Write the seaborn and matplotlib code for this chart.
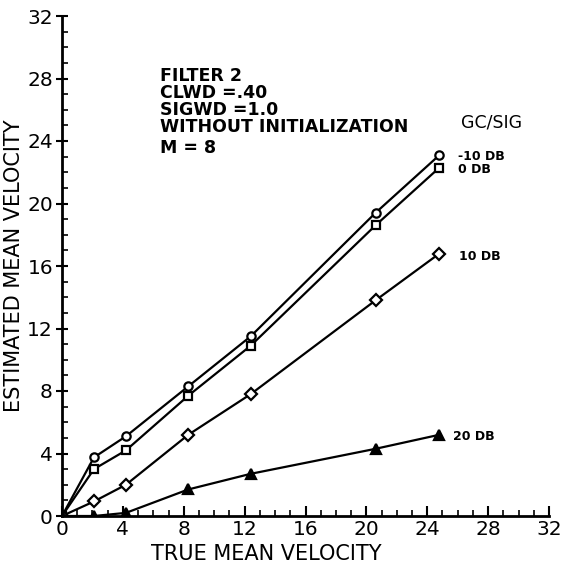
import numpy as np
import pandas as pd
import matplotlib
matplotlib.use("Agg")
import matplotlib.pyplot as plt
import seaborn as sns
from matplotlib.ticker import MultipleLocator

# ---- data ----
true_velocity = [0.0, 2.1, 4.2, 8.3, 12.4, 20.6, 24.8]
est_m10db = [0.0, 3.75, 5.1, 8.3, 11.5, 19.4, 23.1]
est_0db = [0.0, 3.0, 4.2, 7.7, 10.9, 18.6, 22.3]
est_10db = [0.0, 0.93, 2.0, 5.2, 7.8, 13.8, 16.8]
est_20db = [0.0, 0.0, 0.2, 1.7, 2.7, 4.3, 5.2]
series_labels = ["-10 DB", "0 DB", "10 DB", "20 DB"]
x_ticks = [0, 4, 8, 12, 16, 20, 24, 28, 32]
y_ticks = [0, 4, 8, 12, 16, 20, 24, 28, 32]
info_lines = ["FILTER 2", "CLWD =.40", "SIGWD =1.0", "WITHOUT INITIALIZATION"]
info_last = "M = 8"

sns.set_theme(style="white")
plt.rcParams['font.family'] = ['DejaVu Sans']
plt.rcParams['text.color'] = 'black'
plt.rcParams['axes.labelcolor'] = 'black'
plt.rcParams['xtick.color'] = 'black'
plt.rcParams['ytick.color'] = 'black'

fig = plt.figure(figsize=(5.73, 5.77), dpi=100)
ax = fig.add_axes([62/573, 1-516/577, 487/573, 500/577])

all_series = [est_m10db, est_0db, est_10db, est_20db]
markers = ["o", "s", "D", "^"]
msizes = [6, 6, 6, 6.5]
faces = ["white", "white", "white", "black"]
for vals, lab, mk, ms, fc in zip(all_series, series_labels, markers, msizes, faces):
    df = pd.DataFrame({"x": true_velocity, "y": vals})
    sns.lineplot(data=df, x="x", y="y", ax=ax, color="black", linewidth=1.6,
                 marker=mk, markersize=ms, markerfacecolor=fc,
                 markeredgecolor="black", markeredgewidth=1.6, sort=False)

ax.set_xlim(0, 32)
ax.set_ylim(0, 32)
ax.set_xticks(x_ticks)
ax.set_yticks(y_ticks)
ax.set_xticklabels([str(t) for t in x_ticks])
ax.set_yticklabels([str(t) for t in y_ticks])
ax.xaxis.set_minor_locator(MultipleLocator(1))
ax.yaxis.set_minor_locator(MultipleLocator(1))
ax.tick_params(axis="x", which="major", direction="in", length=7, width=1.5, labelsize=14.5, pad=3, bottom=True, colors="black")
ax.tick_params(axis="x", which="minor", direction="in", length=4, width=1.2, bottom=True, colors="black")
ax.tick_params(axis="y", which="major", direction="inout", length=9, width=1.5, labelsize=14.5, pad=2, left=True, colors="black")
ax.tick_params(axis="y", which="minor", direction="in", length=4, width=1.2, left=True, colors="black")

for s in ["top", "right"]:
    ax.spines[s].set_visible(False)
for s in ["left", "bottom"]:
    ax.spines[s].set_color("black")
    ax.spines[s].set_linewidth(2)

label_font = ['Liberation Sans Narrow', 'DejaVu Sans']
ax.set_xlabel("TRUE MEAN VELOCITY", fontsize=15, family=label_font, labelpad=0, color="black")
ax.xaxis.set_label_coords(0.42, -0.055)
ax.set_ylabel("ESTIMATED MEAN VELOCITY", fontsize=15, family=label_font, labelpad=2, color="black")

ax.text(6.45, 28.72, "\n".join(info_lines), fontsize=12.5, fontweight="bold",
        va="top", ha="left", color="black", linespacing=0.92)
ax.text(6.45, 23.55, info_last, fontsize=12.5, fontweight="bold", va="center", ha="left", color="black")

ax.text(26.2, 25.2, "GC/SIG", fontsize=12.5, va="center", ha="left", color="black")
label_y = [23.0, 22.2, 16.6, 5.06]
label_x = [26.0, 26.0, 26.1, 25.7]
for lab, lx, ly in zip(series_labels, label_x, label_y):
    ax.text(lx, ly, lab, fontsize=9, fontweight="bold", va="center", ha="left", color="black")

fig.savefig("out.png", dpi=100, facecolor="white")
